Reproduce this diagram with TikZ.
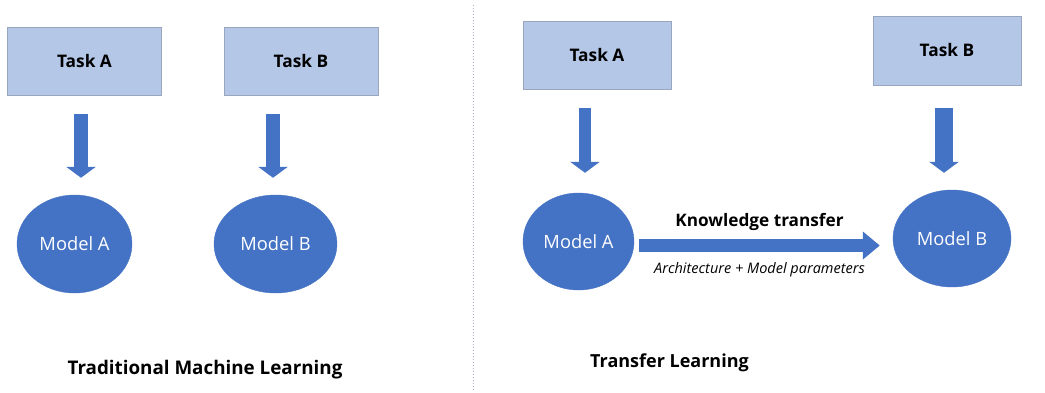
\documentclass[tikz,border=0pt]{standalone}
\usepackage{fontspec}
\setmainfont{Open Sans}
\usetikzlibrary{arrows.meta,shapes.geometric}
\definecolor{taskfill}{HTML}{B4C7E7}
\definecolor{taskline}{HTML}{98A6BF}
\definecolor{modelblue}{HTML}{4472C4}
\definecolor{divline}{HTML}{A7AEC4}
\begin{document}
\begin{tikzpicture}[x=1pt, y=-1pt,
        taskbox/.style={draw=taskline, line width=0.8pt, rectangle, fill=taskfill, minimum width=154pt, minimum height=68pt, font=\fontsize{17.3}{19}\selectfont\bfseries},
        modelnode/.style={draw=modelblue, ellipse, fill=modelblue, text=white, inner sep=0pt, font=\fontsize{18.3}{20}\selectfont},
        downarrow/.style={draw=modelblue, line width=14pt, -{Triangle[length=11pt, width=29pt]}},
        caption/.style={font=\fontsize{18}{20}\selectfont\bfseries}]
        \useasboundingbox (0,0) rectangle (1045,392);
        % Traditional machine learning
        \node[taskbox] (taskA1) at (84.5,61) {Task A};
        \node[taskbox] (taskB1) at (301,61) {Task B};
        \node[modelnode, minimum width=115pt, minimum height=98pt] (modelA1) at (74.5,244) {Model A};
        \node[modelnode, minimum width=123pt, minimum height=98pt] (modelB1) at (275.5,244) {Model B};
        \node[caption, font=\fontsize{18.8}{20}\selectfont\bfseries] (tradml) at (205,370) {Traditional Machine Learning};

        \draw[downarrow, shorten <=19pt, shorten >=17pt] (taskA1.south -| 81,0) -- (modelA1.north -| 81,0);
        \draw[downarrow, shorten <=19pt, shorten >=17pt] (taskB1.south -| 273,0) -- (modelB1.north -| 273,0);

        % divider
        \coordinate (divtop) at (473,5);
        \coordinate (divbot) at (473,390);
        \draw[divline, line width=1pt, dotted] (divtop) -- (divbot);

        % Transfer learning
        \node[taskbox, minimum width=148pt] (taskA2) at (597,55) {Task A};
        \node[taskbox, minimum width=148pt, minimum height=69pt] (taskB2) at (947,50.5) {Task B};
        \node[modelnode, minimum width=111pt, minimum height=97pt] (modelA2) at (578.5,241.5) {Model A};
        \node[modelnode, minimum width=118pt, minimum height=97pt] (modelB2) at (952,238.5) {Model B};
        \node[caption] (transl) at (669.5,363) {Transfer Learning};

        \draw[downarrow, line width=12pt, shorten <=19pt, shorten >=20pt] (taskA2.south -| 585,0) -- (modelA2.north -| 585,0);
        \draw[downarrow, line width=18pt, shorten <=23pt, shorten >=17pt] (taskB2.south -| 944,0) -- (modelB2.north -| 944,0);
        \draw[draw=modelblue, line width=13pt, -{Triangle[length=17pt, width=27pt]}]
            ([shift={(5,4)}]modelA2.east) -- ([shift={(-13,7)}]modelB2.west)
            node[midway, yshift=24pt, font=\fontsize{17.2}{19}\selectfont\bfseries] (ktlabel) {Knowledge transfer}
            node[midway, yshift=-24pt, font=\fontsize{14.5}{16}\selectfont\itshape] (archlabel) {Architecture + Model parameters};
    \end{tikzpicture}
\end{document}
